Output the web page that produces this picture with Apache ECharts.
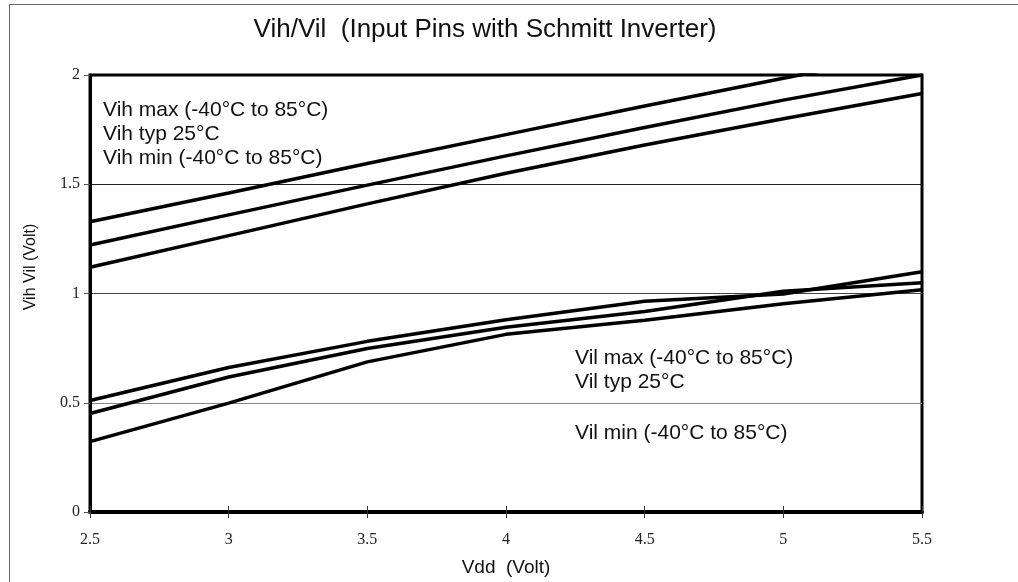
<!DOCTYPE html>
<html>
<head>
<meta charset="utf-8">
<script src="https://cdn.jsdelivr.net/npm/echarts@6/dist/echarts.min.js"></script>
<style>
  html, body { margin: 0; padding: 0; background: #fff; }
  #chart { width: 1018px; height: 582px; }
</style>
</head>
<body>
<div id="chart"></div>
<script>
// Supply voltage points (V)
const vdd = [2.5, 3, 3.5, 4, 4.5, 5, 5.5];

// Input high threshold (V)
const vihMax = [1.328, 1.46, 1.595, 1.727, 1.858, 1.985, 2.11];
const vihTyp = [1.222, 1.36, 1.496, 1.63, 1.76, 1.885, 2.0];
const vihMin = [1.12, 1.265, 1.41, 1.55, 1.68, 1.80, 1.915];

// Input low threshold (V)
const vilMax = [0.51, 0.661, 0.781, 0.88, 0.965, 0.998, 1.10];
const vilTyp = [0.451, 0.618, 0.748, 0.846, 0.918, 1.01, 1.049];
const vilMin = [0.322, 0.498, 0.687, 0.813, 0.878, 0.953, 1.017];

const xTicks = [2.5, 3, 3.5, 4, 4.5, 5, 5.5];
const yTicks = [0, 0.5, 1, 1.5, 2];

const title = 'Vih/Vil  (Input Pins with Schmitt Inverter)';
const xName = 'Vdd  (Volt)';
const yName = 'Vih Vil (Volt)';
const vihNotes = ['Vih max (-40°C to 85°C)', 'Vih typ 25°C', 'Vih min (-40°C to 85°C)'];
const vilNotes = ['Vil max (-40°C to 85°C)', 'Vil typ 25°C', 'Vil min (-40°C to 85°C)'];

const pair = ys => vdd.map((x, i) => [x, ys[i]]);

const serif = '"Liberation Serif", "DejaVu Serif", serif';
const sans = '"Liberation Sans", Arial, sans-serif';

const lineSeries = (name, ys) => ({
  name,
  type: 'line',
  data: pair(ys),
  xAxisIndex: 0,
  yAxisIndex: 0,
  symbol: 'none',
  clip: true,
  lineStyle: { color: '#000', width: 3.5 },
  z: 3
});

const chart = echarts.init(document.getElementById('chart'));

const noteText = (lines, left, top) => ({
  type: 'text',
  left, top,
  style: {
    text: lines.join('\n'),
    font: '21px ' + sans,
    fill: '#111',
    lineHeight: 24
  },
  z: 10
});

chart.setOption({
  animation: false,
  backgroundColor: '#fff',
  title: {
    text: title,
    left: 480,
    top: 12,
    textAlign: 'center',
    textStyle: { fontFamily: sans, fontSize: 26, fontWeight: 'normal', color: '#111' }
  },
  grid: {
    left: 90, right: 96, top: 75, bottom: 70,
    containLabel: false,
    outerBoundsMode: 'none',
    show: true,
    borderColor: '#000',
    borderWidth: 3,
    backgroundColor: '#fff'
  },
  xAxis: [{
    type: 'value',
    min: 2.5, max: 5.5, interval: 0.5,
    position: 'bottom',
    name: xName,
    nameLocation: 'middle',
    nameGap: 46,
    nameTextStyle: { fontFamily: sans, fontSize: 19, color: '#111' },
    axisLine: { show: true, onZero: false, lineStyle: { color: '#000', width: 4 } },
    axisTick: { show: true, length: 6, lineStyle: { color: '#333', width: 1 } },
    axisLabel: {
      margin: 20, fontFamily: serif, fontSize: 16, color: '#222',
      formatter: v => xTicks.includes(v) ? String(v) : ''
    },
    splitLine: { show: false }
  }, {
    // inner half of the crossing ticks on the Vdd axis
    type: 'value',
    min: 2.5, max: 5.5, interval: 0.5,
    position: 'bottom',
    axisLine: { show: false },
    axisTick: { show: true, inside: true, length: 6, lineStyle: { color: '#333', width: 1 } },
    axisLabel: { show: false },
    splitLine: { show: false }
  }],
  yAxis: {
    type: 'value',
    min: 0, max: 2, interval: 0.5,
    axisLine: { show: true, lineStyle: { color: '#000', width: 3 } },
    axisTick: { show: true, length: 6, lineStyle: { color: '#555', width: 1 } },
    axisLabel: {
      margin: 10, fontFamily: serif, fontSize: 16, color: '#222',
      formatter: v => yTicks.includes(v) ? String(v) : ''
    },
    splitLine: { show: true, lineStyle: { color: ['#000', '#888', '#444', '#222', '#000'], width: 1 } }
  },
  series: [
    lineSeries('Vih max', vihMax),
    lineSeries('Vih typ', vihTyp),
    lineSeries('Vih min', vihMin),
    lineSeries('Vil max', vilMax),
    lineSeries('Vil typ', vilTyp),
    lineSeries('Vil min', vilMin)
  ],
  graphic: [
    {
      type: 'rect',
      shape: { x: 9.5, y: 4.5, width: 1030, height: 600 },
      style: { fill: 'none', stroke: '#666', lineWidth: 1 },
      silent: true,
      z: 0
    },
    {
      // vertical axis title
      type: 'text',
      x: 31, y: 267,
      rotation: Math.PI / 2,
      style: {
        text: yName,
        font: '16px ' + sans,
        fill: '#111',
        align: 'center',
        verticalAlign: 'middle'
      },
      z: 10
    },
    noteText(vihNotes, 103, 98),
    noteText(vilNotes.slice(0, 2), 575, 346),
    noteText([vilNotes[2]], 575, 421)
  ]
});
</script>
</body>
</html>
